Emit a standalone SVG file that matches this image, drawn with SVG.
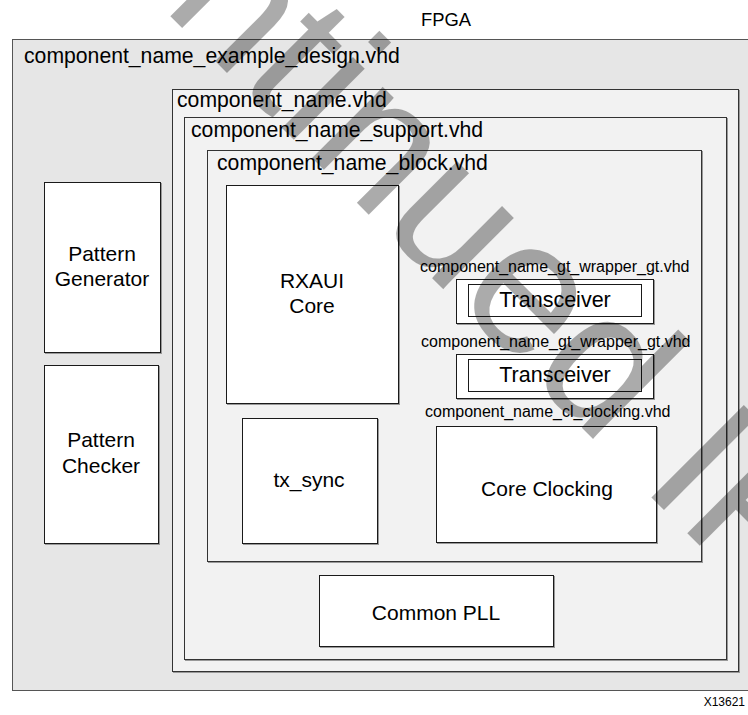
<svg xmlns="http://www.w3.org/2000/svg" width="748" height="715" viewBox="0 0 748 715">
<style>
text{font-family:"Liberation Sans",Arial,sans-serif;fill:#000}
.big{font-size:21.2px}
.sm{font-size:16px}
.node{font-size:21px;text-anchor:middle}
.box{fill:#fff;stroke:#1a1a1a;stroke-width:1}
.cont{fill:#f2f2f2;stroke:#333;stroke-width:1}
.sh{fill:none;stroke:#999;stroke-width:1}
.wm{font-size:190px;fill:#000;fill-opacity:0.33}
</style>
<rect x="0" y="0" width="748" height="715" fill="#fff"/>
<text x="446" y="26" style="font-size:18.4px;text-anchor:middle">FPGA</text>
<g id="example_design">
<rect x="12.5" y="39.5" width="740" height="651" fill="#e6e6e6" stroke="#555" stroke-width="1"/>
<text class="big" x="24" y="63">component_name_example_design.vhd</text>
</g>
<g id="pattern_generator">
<rect class="sh" x="45.5" y="183.5" width="116" height="170"/>
<rect class="box" x="44.5" y="182.5" width="116" height="170"/>
<text class="node" x="102" y="261">Pattern</text>
<text class="node" x="102" y="286">Generator</text>
</g>
<g id="pattern_checker">
<rect class="sh" x="45.5" y="366.5" width="114" height="178"/>
<rect class="box" x="44.5" y="365.5" width="114" height="178"/>
<text class="node" x="101" y="447">Pattern</text>
<text class="node" x="101" y="473">Checker</text>
</g>
<g id="component_name">
<rect class="sh" x="173.5" y="90.5" width="566" height="582"/>
<rect class="cont" x="172.5" y="89.5" width="566" height="582"/>
<text class="big" x="177" y="107">component_name.vhd</text>
</g>
<g id="support">
<rect class="sh" x="185.5" y="118.5" width="542" height="542"/>
<rect class="cont" x="184.5" y="117.5" width="542" height="542"/>
<text class="big" x="191" y="137">component_name_support.vhd</text>
</g>
<g id="block">
<rect class="sh" x="208.5" y="151.5" width="494" height="411"/>
<rect class="cont" x="207.5" y="150.5" width="494" height="411"/>
<text class="big" x="217" y="170">component_name_block.vhd</text>
</g>
<g id="rxaui_core">
<rect class="sh" x="227.5" y="186.5" width="172" height="218"/>
<rect class="box" x="226.5" y="185.5" width="172" height="218"/>
<text class="node" x="312" y="288">RXAUI</text>
<text class="node" x="312" y="313">Core</text>
</g>
<g id="tx_sync">
<rect class="sh" x="243.5" y="419.5" width="135" height="125"/>
<rect class="box" x="242.5" y="418.5" width="135" height="125"/>
<text class="node" x="309" y="487">tx_sync</text>
</g>
<g id="gt_wrapper_1">
<text class="sm" x="420" y="272">component_name_gt_wrapper_gt.vhd</text>
<rect class="sh" x="457.5" y="280.5" width="197" height="44"/>
<rect class="box" x="456.5" y="279.5" width="197" height="44"/>
<rect class="box" x="468.5" y="284.5" width="173" height="32"/>
<text class="node" x="555" y="307" style="font-size:21.5px">Transceiver</text>
</g>
<g id="gt_wrapper_2">
<text class="sm" x="421" y="347">component_name_gt_wrapper_gt.vhd</text>
<rect class="sh" x="457.5" y="355.5" width="197" height="44"/>
<rect class="box" x="456.5" y="354.5" width="197" height="44"/>
<rect class="box" x="468.5" y="359.5" width="173" height="32"/>
<text class="node" x="555" y="382" style="font-size:21.5px">Transceiver</text>
</g>
<g id="core_clocking">
<text class="sm" x="425" y="417">component_name_cl_clocking.vhd</text>
<rect class="sh" x="437.5" y="427.5" width="220" height="116"/>
<rect class="box" x="436.5" y="426.5" width="220" height="116"/>
<text class="node" x="547" y="496">Core Clocking</text>
</g>
<g id="common_pll">
<rect class="sh" x="320.5" y="576.5" width="234" height="71"/>
<rect class="box" x="319.5" y="575.5" width="234" height="71"/>
<text class="node" x="436" y="620">Common PLL</text>
</g>
<g id="connectors"></g>
<text x="745" y="706" style="font-size:12px;text-anchor:end">X13621</text>
<text class="wm" transform="translate(-175,-329) rotate(45)" x="0" y="0">Discontinued IP</text>
</svg>
